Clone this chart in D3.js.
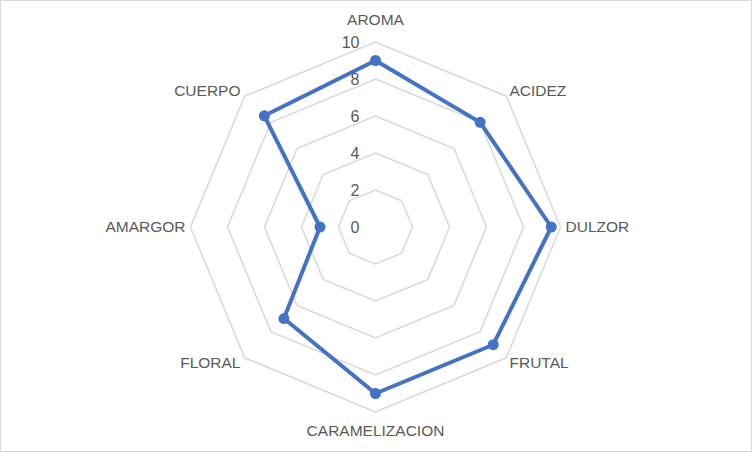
<!DOCTYPE html>
<html><head><meta charset="utf-8">
<script src="https://cdn.jsdelivr.net/npm/d3@7"></script>
<style>body{margin:0;background:#fff;}svg{display:block;}</style>
</head><body>
<script>
const categories = ["AROMA","ACIDEZ","DULZOR","FRUTAL","CARAMELIZACION","FLORAL","AMARGOR","CUERPO"];
const values = [9, 8, 9.5, 9, 9, 7, 3, 8.5];
const tickValues = [0, 2, 4, 6, 8, 10];

const W = 752, H = 452;
const cx = 375.5, cy = 227, R = 185;
const svg = d3.select("body").append("svg").attr("width", W).attr("height", H);
svg.append("rect").attr("x",0.5).attr("y",0.5).attr("width",W-1).attr("height",H-1)
  .attr("fill","#fff").attr("stroke","#d9d9d9");

const r = d3.scaleLinear().domain([0, 10]).range([0, R]);
const angle = d3.scalePoint().domain(categories.concat(["_end"])).range([0, 2*Math.PI]);
const g = svg.append("g").attr("transform", `translate(${cx},${cy})`);
const pt = (c, v) => { const a = angle(c); return [r(v)*Math.sin(a), -r(v)*Math.cos(a)]; };

// grid rings
tickValues.filter(t => t > 0).forEach(t => {
  g.append("path")
    .attr("d", d3.line()(categories.map(c => pt(c, t))) + "Z")
    .attr("fill","none").attr("stroke","#d9d9d9").attr("stroke-width",1.5);
});

// tick labels
g.selectAll(".tick").data(tickValues).enter().append("text")
  .attr("x", -16).attr("y", d => -r(d)).attr("dy","0.35em")
  .attr("text-anchor","end").attr("fill","#595959")
  .style("font-family","'Liberation Sans', Arial, sans-serif").style("font-size","16px")
  .text(d => d);

// category labels
const labelPos = {
  "AROMA": [0, -207, "middle"],
  "ACIDEZ": [134, -136, "start"],
  "DULZOR": [190, 0, "start"],
  "FRUTAL": [134, 136, "start"],
  "CARAMELIZACION": [0, 204, "middle"],
  "FLORAL": [-135, 136, "end"],
  "AMARGOR": [-190, 0, "end"],
  "CUERPO": [-135, -136, "end"]
};
g.selectAll(".cat").data(categories).enter().append("text")
  .attr("x", d => labelPos[d][0]).attr("y", d => labelPos[d][1]).attr("dy","0.35em")
  .attr("text-anchor", d => labelPos[d][2]).attr("fill","#595959")
  .style("font-family","'Liberation Sans', Arial, sans-serif").style("font-size","15.5px")
  .text(d => d);

// series
const data = categories.map((c,i) => ({c, v: values[i]}));
g.append("path")
  .attr("d", d3.line()(data.map(d => pt(d.c, d.v))) + "Z")
  .attr("fill","none").attr("stroke","#4472C4").attr("stroke-width",4).attr("stroke-linejoin","round");
g.selectAll(".dot").data(data).enter().append("circle")
  .attr("cx", d => pt(d.c, d.v)[0]).attr("cy", d => pt(d.c, d.v)[1]).attr("r", 5.5)
  .attr("fill","#4472C4");
</script>
</body></html>
